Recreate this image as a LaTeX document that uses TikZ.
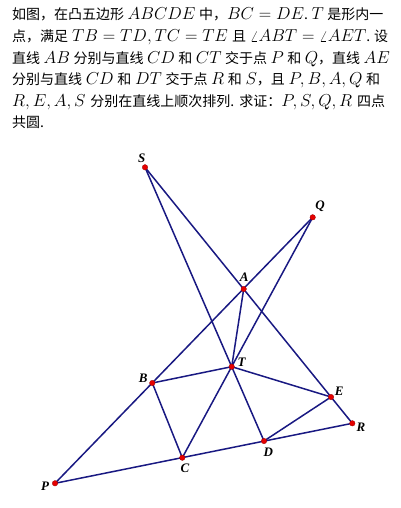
\documentclass[tikz,border=0pt]{standalone}
\usepackage{fontspec}
\newfontfamily\cjk{Noto Sans CJK SC}
\newfontfamily\labfont{Liberation Serif}
\newcommand{\mth}[1]{{\fontsize{16}{16}\selectfont$#1$}}
\newcommand{\gp}{\hspace{3.5pt plus 1fil}}
\newcommand{\jline}[2]{\hbox to #1{#2}}
\definecolor{navyline}{RGB}{25,25,130}
\definecolor{dotred}{RGB}{230,0,0}
\tikzset{
  seg/.style={draw=navyline, line width=1.5pt, line cap=round},
  pt/.style={circle, fill=dotred, draw=red!60!black, line width=0.3pt, inner sep=0pt, minimum size=5.5pt},
  lab/.style={font=\labfont\bfseries\itshape\fontsize{13}{13}\selectfont, inner sep=0pt},
  txt/.style={anchor=base west, inner sep=0pt, font=\cjk\fontsize{14}{14}\selectfont}
}
\begin{document}
\begin{tikzpicture}[x=1pt,y=-1pt]
\useasboundingbox (0,0) rectangle (400,508);
% text
\node[txt] (l1) at (12,19.5) {\jline{364pt}{如图，在凸五边形\gp\mth{ABCDE}\gp 中，\mth{BC=DE}.\gp\mth{T}\gp 是形内一}};
\node[txt] (l2) at (12,41.5) {\jline{376pt}{点，满足\gp\mth{TB=TD, TC=TE}\gp 且\gp\mth{\angle ABT=\angle AET}.\gp 设}};
\node[txt] (l3) at (12,63.5) {\jline{376pt}{直线\gp\mth{AB}\gp 分别与直线\gp\mth{CD}\gp 和\gp\mth{CT}\gp 交于点\gp\mth{P}\gp 和\gp\mth{Q}，直线\gp\mth{AE}}};
\node[txt] (l4) at (12,85) {\jline{368pt}{分别与直线\gp\mth{CD}\gp 和\gp\mth{DT}\gp 交于点\gp\mth{R}\gp 和\gp\mth{S}，且\gp\mth{P, B, A, Q}\gp 和}};
\node[txt] (l5) at (12,106.5) {\jline{373pt}{\mth{R, E, A, S}\gp 分别在直线上顺次排列.\gp 求证：\mth{P, S, Q, R}\gp 四点}};
\node[txt] (l6) at (12,128) {共圆.};
% points
\coordinate (S) at (145,167.3);
\coordinate (Q) at (312.7,217.3);
\coordinate (A) at (243.7,289);
\coordinate (B) at (152.3,383);
\coordinate (T) at (231.7,366.7);
\coordinate (E) at (331,397);
\coordinate (R) at (352.3,423.3);
\coordinate (D) at (264,441);
\coordinate (C) at (182.3,457.7);
\coordinate (P) at (55,483.3);
% lines
\draw[seg] (P) -- (Q);
\draw[seg] (R) -- (S);
\draw[seg] (P) -- (R);
\draw[seg] (C) -- (Q);
\draw[seg] (D) -- (S);
\draw[seg] (B) -- (T);
\draw[seg] (T) -- (E);
\draw[seg] (B) -- (C);
\draw[seg] (D) -- (E);
\draw[seg] (A) -- (T);
% dots
\foreach \p in {S,Q,A,B,T,E,R,D,C,P} \node[pt] (d\p) at (\p) {};
% labels
\node[lab] (tS) at (141.7,158.3) {S};
\node[lab] (tQ) at (320,206.7) {Q};
\node[lab] (tA) at (244.3,277.3) {A};
\node[lab] (tB) at (143.3,378.3) {B};
\node[lab] (tT) at (241.7,362.7) {T};
\node[lab] (tE) at (339.3,391.7) {E};
\node[lab] (tR) at (361,427.3) {R};
\node[lab] (tD) at (268.3,452.3) {D};
\node[lab] (tC) at (185,468.3) {C};
\node[lab] (tP) at (45,486.7) {P};
\end{tikzpicture}
\end{document}
